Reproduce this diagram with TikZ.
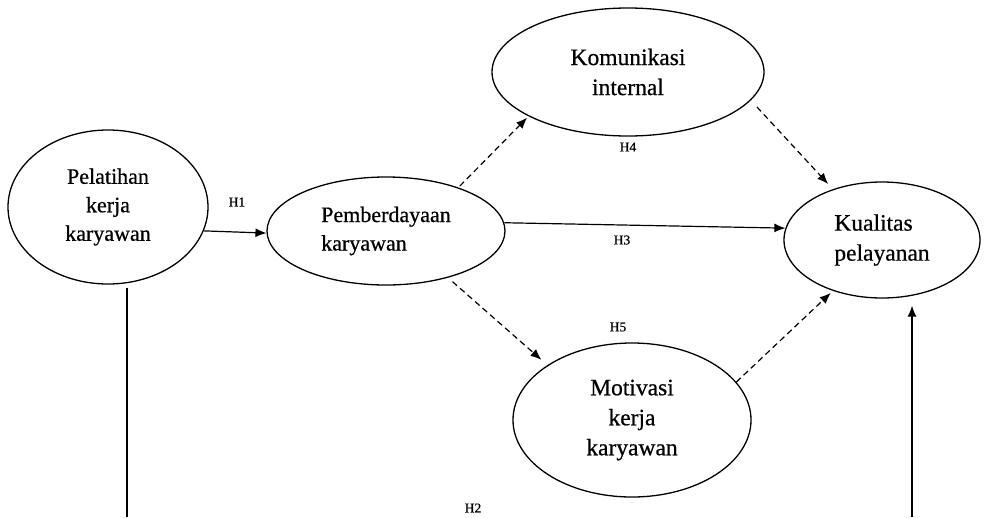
\documentclass[tikz,border=0pt]{standalone}
\usepackage{fontspec}
\setmainfont{Liberation Serif}[FakeBold=0.6]
\usetikzlibrary{shapes.geometric,arrows.meta}
\begin{document}
\begin{tikzpicture}[x=1pt,y=-1pt,
  var/.style={draw,ellipse,line width=1.3pt,inner sep=0pt},
  big/.style={font=\fontsize{23.5}{30}\selectfont},
  mid/.style={font=\fontsize{22}{28.5}\selectfont},
  hyp/.style={font=\fontsize{13.5}{14}\selectfont,inner sep=0pt},
  conn/.style={line width=1.2pt,-{Latex[length=11pt,width=9pt]}},
  dconn/.style={conn,dash pattern=on 6pt off 4pt}]
\fill[white] (0,0) rectangle (985,517);
\useasboundingbox (0,0) rectangle (985,517);
\node[var,mid,align=center,minimum width=200pt,minimum height=154pt] (Pel) at (108,207) {Pelatihan\\kerja\\karyawan};
\node[var,mid,align=left,minimum width=238pt,minimum height=108pt] (Pem) at (386,231) {Pemberdayaan\\karyawan};
\node[var,big,align=center,minimum width=272pt,minimum height=128pt] (Kom) at (628,72) {Komunikasi\\internal};
\node[var,big,align=center,minimum width=238pt,minimum height=154pt] (Mot) at (632,420) {Motivasi\\kerja\\karyawan};
\node[var,big,align=left,minimum width=196pt,minimum height=116pt] (Kual) at (882,240) {Kualitas\\pelayanan};
\node[hyp] (H1) at (237,202) {H1};
\node[hyp] (H4) at (628,147) {H4};
\node[hyp] (H3) at (622,240) {H3};
\node[hyp] (H5) at (618,327) {H5};
\node[hyp] (H2) at (473,508) {H2};
\coordinate (b1) at (127,517);
\coordinate (b2) at (912,517);
\draw[conn] (Pel.-14.6) -- (Pem.181);
\draw[conn] (Pem.4) -- (Kual.173.6);
\draw[dconn,shorten <=2pt,shorten >=2pt] (Pem.31) -- (Kom.204);
\draw[dconn,shorten <=9pt,shorten >=7pt] (Kom.-13.5) -- (Kual.134.5);
\draw[dconn,shorten <=6pt,shorten >=8pt] (Pem.-37.7) -- (Mot.147.8);
\draw[dconn,shorten >=3pt] (Mot.20.6) -- (Kual.226.7);
\draw[line width=1.2pt,shorten <=3pt] (Pel.south -| b1) -- (b1);
\draw[conn,shorten >=7pt] (b2) -- (b2 |- Kual.south);
\end{tikzpicture}
\end{document}
